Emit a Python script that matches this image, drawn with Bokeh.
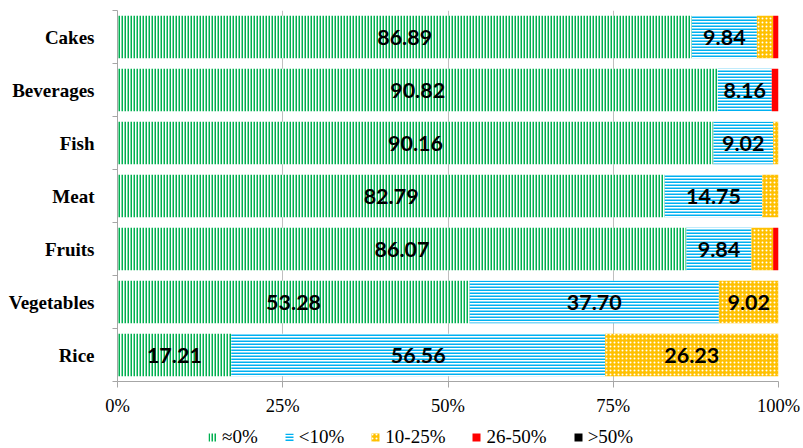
from bokeh.plotting import figure
from bokeh.layouts import column
from bokeh.models import (Range1d, FixedTicker, Legend, LegendItem, ColumnDataSource,
                          PrintfTickFormatter)
from bokeh.embed import file_html
from bokeh.resources import INLINE
from bokeh.core.properties import value

# ---- data (bottom to top) ----
categories = ["Rice", "Vegetables", "Fruits", "Meat", "Fish", "Beverages", "Cakes"]
approx0 = [17.21, 53.28, 86.07, 82.79, 90.16, 90.82, 86.89]
lt10 = [56.56, 37.70, 9.84, 14.75, 9.02, 8.16, 9.84]
p10_25 = [26.23, 9.02, 3.28, 2.46, 0.82, 0.00, 2.46]
p26_50 = [0.00, 0.00, 0.82, 0.00, 0.00, 1.02, 0.82]
gt50 = [0.00, 0.00, 0.00, 0.00, 0.00, 0.00, 0.00]
series_names = ["\u22480%", "<10%", "10-25%", "26-50%", ">50%"]
x_ticks = [0, 25, 50, 75, 100]

series_values = [approx0, lt10, p10_25, p26_50, gt50]
styles = [
    dict(fill_color="white", hatch_color="#00b050", hatch_pattern="vertical_line", hatch_scale=3, hatch_weight=2),
    dict(fill_color="white", hatch_color="#00b0f0", hatch_pattern="horizontal_line", hatch_scale=3, hatch_weight=2),
    dict(fill_color="#ffc000", hatch_color="white", hatch_pattern="dot", hatch_scale=4, hatch_weight=1),
    dict(fill_color="#ff0000"),
    dict(fill_color="#000000"),
]
labelled = [True, True, True, False, False]

ys = list(range(len(categories)))

p = figure(width=803, height=419, output_backend="svg", toolbar_location=None,
           x_range=Range1d(0, 100), y_range=Range1d(-0.5, len(categories) - 0.5),
           min_border_left=117, min_border_right=25, min_border_top=10, min_border_bottom=38)
p.outline_line_color = None

left = [0.0] * len(categories)
lab_x, lab_y, lab_t = [], [], []
for vals, st, lab in zip(series_values, styles, labelled):
    right = [l + v for l, v in zip(left, vals)]
    src = ColumnDataSource(dict(y=ys, left=left, right=right))
    p.hbar(y="y", left="left", right="right", height=0.8, source=src,
           line_color=None, **st)
    if lab:
        for yi, l, v in zip(ys, left, vals):
            if v >= 5:
                lab_x.append(l + v / 2)
                lab_y.append(yi)
                lab_t.append(f"{v:.2f}")
    left = right

p.text(x=lab_x, y=lab_y, text=lab_t, text_align="center", text_baseline="middle",
       text_font=value("Lato"), text_font_style="bold", text_font_size="21.5px",
       text_color="black")

# x axis
p.xaxis.ticker = FixedTicker(ticks=x_ticks)
p.xaxis.formatter = PrintfTickFormatter(format="%d%%")
p.xaxis.axis_line_color = "#a6a6a6"
p.xaxis.major_tick_line_color = "#a6a6a6"
p.xaxis.major_tick_out = 6
p.xaxis.major_tick_in = 0
p.xaxis.minor_tick_line_color = None
p.xaxis.major_label_standoff = 8
p.xaxis.major_label_text_font = "Liberation Serif"
p.xaxis.major_label_text_font_size = "18.5px"
p.xaxis.major_label_text_color = "#000000"

# y axis
bounds = [i - 0.5 for i in range(len(categories) + 1)]
p.yaxis.ticker = FixedTicker(ticks=ys, minor_ticks=bounds)
p.yaxis.major_label_overrides = {i: c for i, c in zip(ys, categories)}
p.yaxis.axis_line_color = "#a6a6a6"
p.yaxis.major_tick_line_color = None
p.yaxis.minor_tick_line_color = "#a6a6a6"
p.yaxis.minor_tick_out = 5
p.yaxis.minor_tick_in = 0
p.yaxis.major_label_standoff = 17
p.yaxis.major_label_text_font = "Liberation Serif"
p.yaxis.major_label_text_font_style = "bold"
p.yaxis.major_label_text_font_size = "19px"
p.yaxis.major_label_text_color = "#000000"

p.xgrid.ticker = FixedTicker(ticks=x_ticks)
p.xgrid.grid_line_color = "#bfbfbf"
p.ygrid.grid_line_color = None

# ---- legend strip (separate small figure; zero-width proxy bars carry the styles) ----
lp = figure(width=803, height=29, output_backend="svg", toolbar_location=None,
            x_range=Range1d(0, 1), y_range=Range1d(0, 1),
            x_axis_type=None, y_axis_type=None, min_border=0)
lp.outline_line_color = None
lp.xgrid.grid_line_color = None
lp.ygrid.grid_line_color = None
leg_renderers = []
for st in styles:
    leg_renderers.append(lp.hbar(y=[0], left=[0], right=[0], height=0.0, line_color=None, **st))

legend = Legend(items=[LegendItem(label=n, renderers=[r]) for n, r in zip(series_names, leg_renderers)],
                orientation="horizontal", location=(90, 0))
legend.glyph_width = 10
legend.glyph_height = 10
legend.label_standoff = 5
legend.spacing = 26
legend.padding = 0
legend.margin = 0
legend.border_line_color = None
legend.background_fill_alpha = 0
legend.label_text_font = "Liberation Serif"
legend.label_text_font_size = "19px"
legend.label_text_color = "#000000"
lp.add_layout(legend, "center")

layout = column(p, lp, spacing=0)
open("out.html", "w").write(file_html(layout, INLINE))
